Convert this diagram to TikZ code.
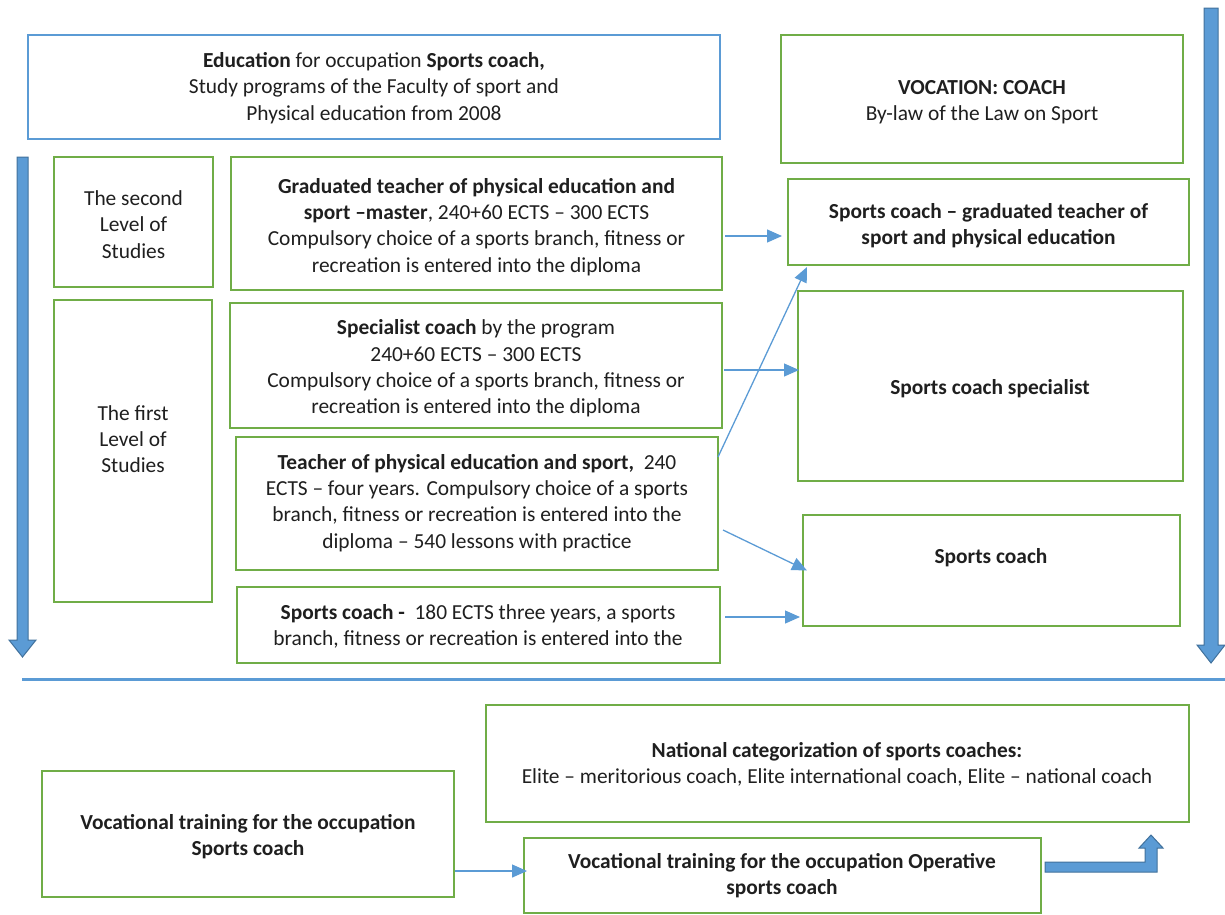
\documentclass[tikz,border=0pt]{standalone}
\usepackage{fontspec}
\setmainfont{Carlito}
\usetikzlibrary{arrows.meta,calc}
\definecolor{boxblue}{HTML}{5B9BD5}
\definecolor{boxgreen}{HTML}{70AD47}
\definecolor{arrowedge}{HTML}{41719C}
\newcommand\mkbox[6]{%
  \pgfmathsetmacro\cx{(#2+#4)/2}\pgfmathsetmacro\cy{(#3+#5)/2}%
  \pgfmathsetmacro\bw{#4-#2}\pgfmathsetmacro\bh{#5-#3}%
  \node[#6, minimum width=\bw pt, minimum height=\bh pt] (#1) at (\cx,\cy) {};}
\newcommand\txtfont{\fontsize{21.4}{26.2}\selectfont}
\tikzset{
  greenbox/.style={draw=boxgreen, line width=2.6pt, inner sep=0pt, outer sep=0pt, fill=white},
  bluebox/.style={draw=boxblue, line width=2.4pt, inner sep=0pt, outer sep=0pt, fill=white},
  txt/.style={align=center, inner sep=0pt, font=\txtfont, text=black!88, yshift=-1.5pt},
  btxt/.style={txt, font=\txtfont\bfseries},
  conn/.style={draw=boxblue, line width=1.3pt, -{Triangle[length=15pt,width=13pt]}},
  bigarrow/.style={fill=boxblue, draw=arrowedge, line width=1pt, line join=miter}
}
\begin{document}
\begin{tikzpicture}[x=1pt,y=-1pt]
\useasboundingbox (0,0) rectangle (1225,914);
% boxes
\mkbox{edu}{28}{35}{720}{139}{bluebox}
\mkbox{voc}{781}{35}{1183}{163}{greenbox}
\mkbox{sec}{54}{157}{213}{287}{greenbox}
\mkbox{first}{54}{300}{212}{602}{greenbox}
\mkbox{grad}{231}{157}{722}{290}{greenbox}
\mkbox{spec}{230}{303}{722}{428}{greenbox}
\mkbox{teach}{236}{437}{718}{570}{greenbox}
\mkbox{sc}{237}{587}{720}{663}{greenbox}
\mkbox{sgrad}{788}{179}{1189}{265}{greenbox}
\mkbox{sspec}{798}{291}{1183}{481}{greenbox}
\mkbox{scoach}{803}{515}{1180}{626}{greenbox}
\mkbox{nat}{486}{705}{1189}{822}{greenbox}
\mkbox{voca}{42}{771}{454}{897}{greenbox}
\mkbox{vocb}{524}{838}{1041}{913}{greenbox}
% texts
\node[txt] (edu-t) at (374,86.5) {\textbf{Education} for occupation \textbf{Sports coach,}\\Study programs of the Faculty of sport and\\Physical education from 2008};
\node[txt] (voc-t) at (982,100.5) {\textbf{VOCATION: COACH}\\By-law of the Law on Sport};
\node[txt] (sec-t) at (133.5,223) {The second\\Level of\\Studies};
\node[txt] (first-t) at (133,437.5) {The first\\Level of\\Studies};
\node[txt] (grad-t) at (476.5,225.5) {\textbf{Graduated teacher of physical education and}\\\textbf{sport –master}, 240+60 ECTS – 300 ECTS\\Compulsory choice of a sports branch, fitness or\\recreation is entered into the diploma};
\node[txt] (spec-t) at (476,367) {\textbf{Specialist coach} by the program\\240+60 ECTS – 300 ECTS\\Compulsory choice of a sports branch, fitness or\\recreation is entered into the diploma};
\node[txt] (teach-t) at (477,501.5) {\textbf{Teacher of physical education and sport,}\ \ 240\\ECTS – four years. Compulsory choice of a sports\\branch, fitness or recreation is entered into the\\diploma – 540 lessons with practice};
\node[txt] (sc-t) at (478,625) {\textbf{Sports coach -}\ \ 180 ECTS three years, a sports\\branch, fitness or recreation is entered into the};
\node[btxt] (sgrad-t) at (988.5,224) {Sports coach – graduated teacher of\\sport and physical education};
\node[btxt] (sspec-t) at (990,387) {Sports coach specialist};
\node[btxt] (scoach-t) at (991,556) {Sports coach};
\node[txt] (nat-t) at (837,763) {\textbf{National categorization of sports coaches:}\\Elite – meritorious coach, Elite international coach, Elite – national coach};
\node[btxt] (voca-t) at (248,835.5) {Vocational training for the occupation\\Sports coach};
\node[btxt] (vocb-t) at (782,874) {Vocational training for the occupation Operative\\sports coach};
% connectors
\draw[conn] ($(grad.east)+(3,12.5)$) -- ($(sgrad.west)+(-6,14)$);
\draw[conn] ($(spec.east)+(2,4.5)$) -- ($(sspec.west)+(1,-16)$);
\draw[conn] ($(teach.east)+(0,-46.5)$) -- ($(sgrad.south west)+(19,2)$);
\draw[conn] ($(teach.east)+(5,26.5)$) -- ($(scoach.west)+(4,0)$);
\draw[conn] ($(sc.east)+(5,-8)$) -- ($(scoach.west)+(-3,46.5)$);
\draw[conn] ($(voca.east)+(1,37)$) -- ($(vocb.west)+(3,-4.5)$);
% big arrows
\draw[bigarrow] (17,157) -- (28,157) -- (28,640) -- (36,640) -- (22.5,657) -- (9,640) -- (17,640) -- cycle;
\draw[bigarrow] (1204,8) -- (1218,8) -- (1218,645) -- (1225,645) -- (1211,663) -- (1197,645) -- (1204,645) -- cycle;
\draw[bigarrow] (1045,862) -- (1145,862) -- (1145,848) -- (1139,848) -- (1151,835) -- (1163,848) -- (1157,848) -- (1157,872) -- (1045,872) -- cycle;
% separator
\draw[boxblue, line width=3pt] (22,679) -- (1225,679);
\end{tikzpicture}
\end{document}
